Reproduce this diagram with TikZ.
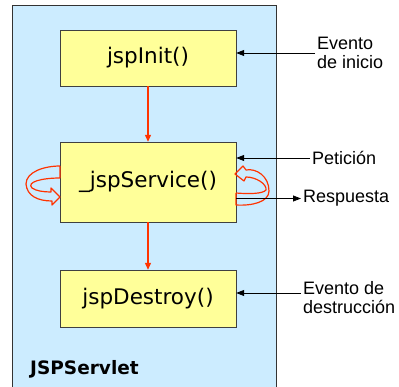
\documentclass[tikz,border=0pt]{standalone}
\usepackage{fontspec}
\setmainfont{Liberation Sans}
\newfontfamily\verdfont{DejaVu Sans}
\usepackage{tikz}
\usetikzlibrary{arrows.meta, positioning}
\definecolor{servletblue}{RGB}{204,236,255}
\definecolor{methodyellow}{RGB}{255,255,153}
\definecolor{flowred}{RGB}{255,51,0}

\begin{document}
\begin{tikzpicture}[x=1pt, y=-1pt,
    method/.style={rectangle, draw=black!75, fill=methodyellow, minimum width=176pt, font=\verdfont\fontsize{21.5}{24}\selectfont},
    event/.style={align=left, inner sep=2pt, font=\fontsize{18}{19}\selectfont},
    flow/.style={-{Triangle[length=7pt,width=6pt]}, line width=1.2pt, color=flowred},
    evarrow/.style={-{Triangle[length=8pt,width=6pt]}, line width=0.8pt},
    ribbon/.style={line width=1.2pt, color=flowred, line join=round}
]
    \useasboundingbox (0,0) rectangle (399,387);
    \draw[fill=servletblue, draw=black!80, line width=0.8pt] (12,5) rectangle (276,395);

    \node[method, minimum height=56pt] (init) at (148,58) {jspInit()};
    \node[method, minimum height=80pt] (service) at (148,182) {\_jspService()};
    \node[method, minimum height=57pt] (destroy) at (148,298.5) {jspDestroy()};
    \node[anchor=base west, inner sep=0pt, font=\verdfont\bfseries\fontsize{18.5}{20}\selectfont] (servletname) at (30,374) {JSPServlet};

    \draw[flow] (init) -- (service);
    \draw[flow] (service) -- (destroy);

    % request loops
    \draw[ribbon] (60,166) -- (60,178) .. controls (42,178) and (26,182) .. (32,188) .. controls (36,191) and (44,192) .. (51,192) -- (51,188) -- (60,197) -- (52,205) -- (52,201) .. controls (38,201) and (27,196) .. (26,184) .. controls (26,172) and (44,166) .. (60,166);
    \draw[ribbon] (236,193) -- (236,205) .. controls (252,206) and (269,202) .. (269,191) .. controls (269,176) and (256,168) .. (246,170) -- (243,166) -- (235,174) -- (244,181) -- (246,177) .. controls (256,177) and (267,184) .. (266,190) .. controls (263,194) and (248,194) .. (236,193);

    \node[event, anchor=west] (inicio) at (315,53) {Evento\\de inicio};
    \node[event, anchor=west] (peticion) at (310,158) {Petición};
    \node[event, anchor=west] (respuesta) at (301,198.5) {Respuesta};
    \node[event, anchor=west] (destruccion) at (301,298) {Evento de\\destrucción};

    \draw[evarrow] (inicio.west) -- (inicio.west -| init.east);
    \draw[evarrow] (peticion.west) -- (peticion.west -| service.east);
    \draw[evarrow] (respuesta.west -| service.east) -- (respuesta.west);
    \draw[evarrow] ([yshift=5pt]destruccion.west) -- ([yshift=5pt]destruccion.west -| destroy.east);
\end{tikzpicture}
\end{document}
